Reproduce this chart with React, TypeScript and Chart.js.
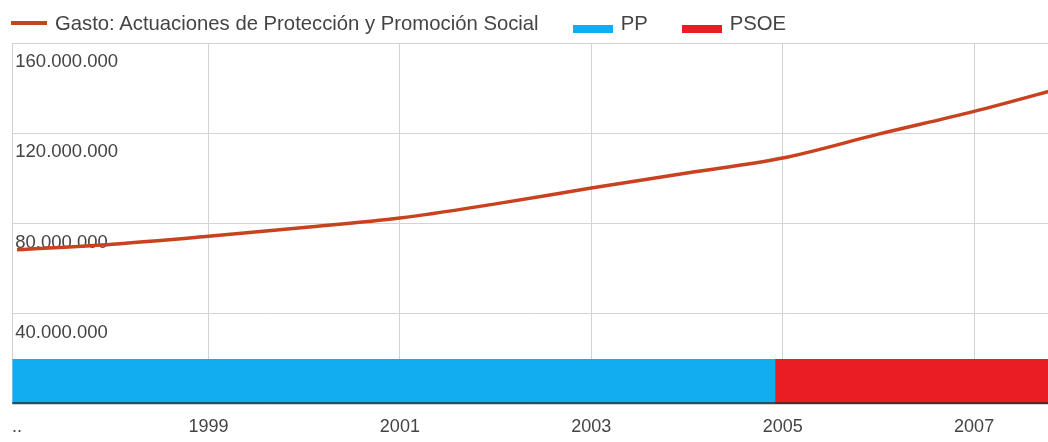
import React, { useEffect, useRef } from 'react';
import { Chart, registerables } from 'chart.js';

Chart.register(...registerables);

// ---- Data ----
const gastoYears = [1997, 1998, 1999, 2000, 2001, 2002, 2003, 2004, 2005, 2006, 2007, 2008];
const gastoValues = [
  68400000, 70800000, 74300000, 78200000, 82400000, 88700000,
  95700000, 102400000, 109000000, 119600000, 129700000, 141100000,
];
const ppYears = [1996, 2004.92];
const ppValues = [20000000, 20000000];
const psoeYears = [2004.92, 2011];
const psoeValues = [20000000, 20000000];

const xTickYears = [1997, 1999, 2001, 2003, 2005, 2007];
const xTickLabels = ['..', '1999', '2001', '2003', '2005', '2007'];
const yTickValues = [0, 40000000, 80000000, 120000000, 160000000];

const seriesNames = ['Gasto: Actuaciones de Protección y Promoción Social', 'PP', 'PSOE'];

// ---- Styles ----
const LINE_COLOR = '#c9421f';
const PP_COLOR = '#12acf0';
const PSOE_COLOR = '#ea1c24';
const GRID_COLOR = '#d3d3d3';
const TEXT_COLOR = '#444444';
const FONT = '"Liberation Sans", Arial, sans-serif';

const X_MIN = 1996.95;
const X_MAX = 2007.772;
const Y_MIN = 0;
const Y_MAX = 160000000;

const fmt = (n: number) => Math.round(n).toString().replace(/\B(?=(\d{3})+(?!\d))/g, '.');

const baselinePlugin = {
  id: 'baseline',
  afterDatasetsDraw(chart: any) {
    const { ctx, chartArea } = chart;
    ctx.save();
    ctx.strokeStyle = 'rgba(25,35,45,0.65)';
    ctx.lineWidth = 2;
    ctx.beginPath();
    ctx.moveTo(chartArea.left, chartArea.bottom - 1);
    ctx.lineTo(chartArea.right, chartArea.bottom - 1);
    ctx.stroke();
    ctx.restore();
  },
};

export default function App() {
  const canvasRef = useRef<HTMLCanvasElement | null>(null);

  useEffect(() => {
    if (!canvasRef.current) return;
    const chart = new Chart(canvasRef.current, {
      type: 'line',
      data: {
        datasets: [
          {
            label: seriesNames[0],
            data: gastoYears.map((x, i) => ({ x, y: gastoValues[i] })),
            borderColor: LINE_COLOR,
            borderWidth: 3.5,
            pointRadius: 0,
            cubicInterpolationMode: 'monotone',
            fill: false,
            yAxisID: 'y',
          },
          {
            label: seriesNames[1],
            data: ppYears.map((x, i) => ({ x, y: ppValues[i] })),
            borderWidth: 0,
            borderColor: PP_COLOR,
            backgroundColor: PP_COLOR,
            pointRadius: 0,
            fill: 'origin',
            yAxisID: 'y',
          },
          {
            label: seriesNames[2],
            data: psoeYears.map((x, i) => ({ x, y: psoeValues[i] })),
            borderWidth: 0,
            borderColor: PSOE_COLOR,
            backgroundColor: PSOE_COLOR,
            pointRadius: 0,
            fill: 'origin',
            yAxisID: 'y',
          },
        ],
      },
      options: {
        animation: false,
        responsive: true,
        maintainAspectRatio: false,
        layout: { padding: { left: 5, top: 43, right: 0, bottom: 0 } },
        plugins: {
          legend: { display: false },
          tooltip: { enabled: false },
        },
        scales: {
          x: {
            type: 'linear',
            min: X_MIN,
            max: X_MAX,
            afterBuildTicks: (scale: any) => {
              scale.ticks = xTickYears.map((v) => ({ value: v }));
            },
            afterFit: (scale: any) => {
              scale.height = 38;
            },
            ticks: {
              autoSkip: false,
              maxRotation: 0,
              padding: 12,
              color: TEXT_COLOR,
              font: { family: FONT, size: 18 },
              callback: (v: any) => {
                const i = xTickYears.indexOf(Number(v));
                return i >= 0 ? xTickLabels[i] : '';
              },
            },
            grid: {
              drawTicks: false,
              color: (ctx: any) => (ctx.tick && ctx.tick.value === xTickYears[0] ? 'rgba(0,0,0,0)' : GRID_COLOR),
              lineWidth: 1,
            },
            border: { display: false },
          },
          y: {
            type: 'linear',
            position: 'left',
            min: Y_MIN,
            max: Y_MAX,
            afterBuildTicks: (scale: any) => {
              scale.ticks = yTickValues.map((v) => ({ value: v }));
            },
            ticks: { display: false },
            grid: { drawTicks: false, color: GRID_COLOR, lineWidth: 1 },
            border: { display: true, color: GRID_COLOR, width: 1 },
          },
          yl: {
            type: 'linear',
            position: 'left',
            min: Y_MIN,
            max: Y_MAX,
            z: 1,
            afterBuildTicks: (scale: any) => {
              scale.ticks = yTickValues.map((v) => ({ value: v }));
            },
            grid: { display: false, drawTicks: false },
            border: { display: false },
            ticks: {
              mirror: true,
              padding: 3,
              labelOffset: 19,
              color: TEXT_COLOR,
              font: { family: FONT, size: 18.5 },
              textStrokeColor: 'rgba(255,255,255,0.85)',
              textStrokeWidth: 3,
              callback: (v: any) => (Number(v) === 0 ? '' : fmt(Number(v))),
            },
          },
        },
      } as any,
      plugins: [baselinePlugin],
    });
    return () => chart.destroy();
  }, []);

  const legendText: React.CSSProperties = {
    fontFamily: FONT,
    fontSize: 20.3,
    color: TEXT_COLOR,
    whiteSpace: 'nowrap',
    lineHeight: '20px',
  };
  const box = (color: string): React.CSSProperties => ({
    width: 40,
    height: 8,
    background: color,
    position: 'relative',
    top: 6,
    marginRight: 8,
    flex: '0 0 auto',
  });

  return (
    <div style={{ position: 'absolute', left: 0, top: 0, width: 1048, height: 442, background: '#fff', overflow: 'hidden' }}>
      <canvas ref={canvasRef} />
      <div
        style={{
          position: 'absolute',
          left: 11,
          top: 13,
          height: 20,
          display: 'flex',
          alignItems: 'center',
        }}
      >
        <div style={{ width: 36, height: 4, background: LINE_COLOR, marginRight: 8, flex: '0 0 auto' }} />
        <span style={legendText}>{seriesNames[0]}</span>
        <div style={{ width: 34 }} />
        <div style={box(PP_COLOR)} />
        <span style={legendText}>{seriesNames[1]}</span>
        <div style={{ width: 34 }} />
        <div style={box(PSOE_COLOR)} />
        <span style={legendText}>{seriesNames[2]}</span>
      </div>
    </div>
  );
}
